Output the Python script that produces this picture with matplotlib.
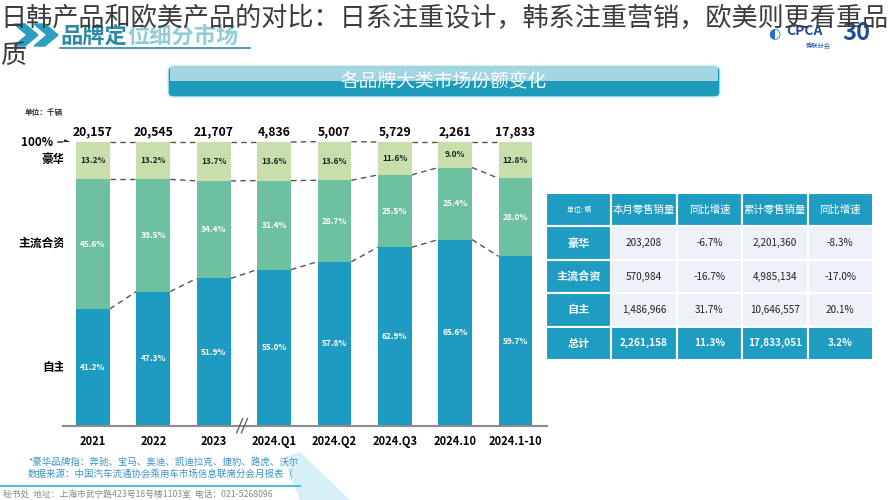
import numpy as np
import matplotlib
matplotlib.use('Agg')
import matplotlib.pyplot as plt
from matplotlib.patches import FancyBboxPatch, Rectangle, Polygon

plt.rcParams['font.family'] = ['Noto Sans CJK SC', 'DejaVu Sans']

# chart data (share %, totals in thousand units)
periods = ['2021', '2022', '2023', '2024.Q1', '2024.Q2', '2024.Q3', '2024.10', '2024.1-10']
totals = ['20,157', '20,545', '21,707', '4,836', '5,007', '5,729', '2,261', '17,833']
own = [41.2, 47.3, 51.9, 55.0, 57.8, 62.9, 65.6, 59.7]
mainstream = [45.6, 39.5, 34.4, 31.4, 28.7, 25.5, 25.4, 27.5]
luxury = [13.2, 13.2, 13.7, 13.6, 13.6, 11.6, 9.0, 12.8]
main_labels = ['45.6%', '39.5%', '34.4%', '31.4%', '28.7%', '25.5%', '25.4%', '28.0%']
segments = ['自主', '主流合资', '豪华']

# table data
tbl_cols = ['单位: 辆', '本月零售销量', '同比增速', '累计零售销量', '同比增速']
tbl_rows = ['豪华', '主流合资', '自主', '总计']
month_sales = ['203,208', '570,984', '1,486,966', '2,261,158']
month_yoy = ['-6.7%', '-16.7%', '31.7%', '11.3%']
ytd_sales = ['2,201,360', '4,985,134', '10,646,557', '17,833,051']
ytd_yoy = ['-8.3%', '-17.0%', '20.1%', '3.2%']

c_own = '#1e9bc0'
c_main = '#6dc0a0'
c_lux = '#c9dfab'
c_dark = '#1f9cc2'

W, H = 889, 500
fig = plt.figure(figsize=(W / 100, H / 100), dpi=100)

# background layer in pixel coordinates
bg = fig.add_axes([0, 0, 1, 1])
bg.set_xlim(0, W)
bg.set_ylim(H, 0)
bg.axis('off')

# slide header
for x0 in (14, 34):
    bg.add_patch(Polygon([(x0, 24), (x0 + 11, 24), (x0 + 24, 35), (x0 + 11, 46), (x0, 46), (x0 + 13, 35)],
                         closed=True, color='#2a9fc2'))
bg.text(60, 36, '品牌定', fontsize=16, color='#2b8aa8', va='center', fontweight='bold')
bg.text(127, 36, '位细分市场', fontsize=16, color='#93cbd9', va='center', fontweight='bold')
bg.plot([60, 250], [48, 48], color='#2b8aa8', lw=1.2)

# logo
bg.text(768, 33, '◐', fontsize=10, color='#2a6fb8', va='center', family='DejaVu Sans')
bg.text(786, 31, 'CPCA', fontsize=10, color='#1d4f9c', fontweight='bold', style='italic', va='center')
bg.text(806, 46, '乘联分会', fontsize=4.5, color='#1d4f9c', va='center')
bg.text(842, 33, '30', fontsize=17, color='#1d4f9c', fontweight='bold', va='center')

# banner
bg.add_patch(FancyBboxPatch((168, 66), 552, 31, boxstyle='round,pad=0,rounding_size=5',
                            fc='#1c9bbb', ec='#cdeef5', lw=1))
bg.add_patch(Rectangle((170, 67), 548, 14, fc='#a3d5e3', ec='none'))
bg.text(444, 81, '各品牌大类市场份额变化', fontsize=13.5, color='white', ha='center', va='center')

bg.text(25, 112, '单位：千辆', fontsize=5.5, color='#333333', va='center', fontweight='bold')

# footer
bg.text(28, 462, '*豪华品牌指：奔驰、宝马、奥迪、凯迪拉克、捷豹、路虎、沃尔', fontsize=6.8,
        color='#3d93c6', va='center')
bg.text(28, 474, '数据来源：中国汽车流通协会乘用车市场信息联席分会月报表（', fontsize=6.8,
        color='#3d93c6', va='center')
bg.plot([0, 300], [486, 486], color='#5db9d2', lw=1.5)
bg.text(3, 494, '秘书处  地址：上海市武宁路423号18号楼1103室  电话：021-5268096', fontsize=6.3,
        color='#8a8a8a', va='center')
bg.add_patch(Polygon([(283, 458), (300, 452), (350, 500), (300, 500)], closed=True,
                     fc='#d3eef5', ec='none', alpha=0.9))

# bar chart axes
left, right, base, top = 63, 547, 425.7, 142
ax = fig.add_axes([left / W, 1 - base / H, (right - left) / W, (base - top) / H])
x = np.arange(len(periods))
w = 0.56
own_a = np.array(own)
main_a = np.array(mainstream)
lux_a = np.array(luxury)
ax.bar(x, own_a, w, color=c_own, zorder=2)
ax.bar(x, main_a, w, bottom=own_a, color=c_main, zorder=2)
ax.bar(x, lux_a, w, bottom=own_a + main_a, color=c_lux, zorder=2)

ax.set_xlim(-0.497, 7.522)
ax.set_ylim(0, 100)
ax.set_yticks([])
ax.set_xticks(x)
ax.set_xticklabels(periods, fontsize=8, fontweight='bold')
ax.tick_params(axis='x', length=0, pad=7)
for s in ['top', 'left', 'right']:
    ax.spines[s].set_visible(False)
ax.spines['bottom'].set_color('#8c8c8c')
ax.spines['bottom'].set_linewidth(1.5)

# dashed connectors
levels = [own_a, own_a + main_a, own_a + main_a + lux_a]
for lv in levels:
    for i in range(len(x) - 1):
        ax.plot([x[i] + w / 2, x[i + 1] - w / 2], [lv[i], lv[i + 1]], color='#555555',
                lw=1, ls=(0, (4, 3)), zorder=1, clip_on=False)

# labels in bars
for i in range(len(x)):
    ax.text(x[i], own_a[i] / 2, f'{own[i]:.1f}%', ha='center', va='center', fontsize=6,
            color='white', fontweight='bold')
    ax.text(x[i], own_a[i] + main_a[i] / 2, main_labels[i], ha='center', va='center', fontsize=6,
            color='white', fontweight='bold')
    ax.text(x[i], own_a[i] + main_a[i] + lux_a[i] / 2, f'{luxury[i]:.1f}%', ha='center',
            va='center', fontsize=6, color='#222222', fontweight='bold')
    ax.text(x[i], 103.5, totals[i], ha='center', va='center', fontsize=8.8, fontweight='bold',
            clip_on=False)

# axis break mark
for dx in (-0.04, 0.04):
    ax.plot([2.47 + dx - 0.05, 2.47 + dx + 0.05], [-2.5, 2.5], color='#666666', lw=1,
            clip_on=False, zorder=3)

# segment names on the left
bg.text(65, 160, segments[2], fontsize=8.5, fontweight='bold', ha='right', va='center')
bg.text(65, 243, segments[1], fontsize=8.5, fontweight='bold', ha='right', va='center')
bg.text(66, 367, segments[0], fontsize=8.5, fontweight='bold', ha='right', va='center')
bg.text(21, 142, '100%', fontsize=8.5, fontweight='bold', va='center')
bg.annotate('', xy=(73, 142), xytext=(55, 142),
            arrowprops=dict(arrowstyle='-|>', color='#222222', lw=1, mutation_scale=7))

# table
tax = fig.add_axes([546 / W, 1 - 360 / H, (873 - 546) / W, (360 - 193) / H])
tax.axis('off')
cells = [[r, a, b, c, d] for r, a, b, c, d in zip(tbl_rows, month_sales, month_yoy, ytd_sales, ytd_yoy)]
tb = tax.table(cellText=[tbl_cols] + cells, bbox=[0, 0, 1, 1], cellLoc='center')
tb.auto_set_font_size(False)
nrows = len(cells) + 1
for (r, c), cell in tb.get_celld().items():
    cell.set_edgecolor('white')
    cell.set_linewidth(1.5)
    txt = cell.get_text()
    if r == 0 or c == 0 or r == nrows - 1:
        cell.set_facecolor(c_dark)
        txt.set_color('white')
    else:
        cell.set_facecolor('#edf2f8')
        txt.set_color('#222222')
    if r == 0:
        txt.set_fontsize(5 if c == 0 else 7.5)
    elif c == 0:
        txt.set_fontsize(8)
        txt.set_fontweight('bold')
    else:
        txt.set_fontsize(7.2)
        if r == nrows - 1:
            txt.set_fontweight('bold')

# overlaid caption text
top_ax = fig.add_axes([0, 0, 1, 1], facecolor='none')
top_ax.set_xlim(0, W)
top_ax.set_ylim(H, 0)
top_ax.axis('off')
top_ax.text(0, 19, '日韩产品和欧美产品的对比：日系注重设计，韩系注重营销，欧美则更看重品',
            fontsize=18.8, color='#3c3c3c', va='center', ha='left', fontweight='light')
top_ax.text(0, 55, '质', fontsize=18.8, color='#3c3c3c', va='center', ha='left', fontweight='light')

fig.savefig('out.png', dpi=100)
